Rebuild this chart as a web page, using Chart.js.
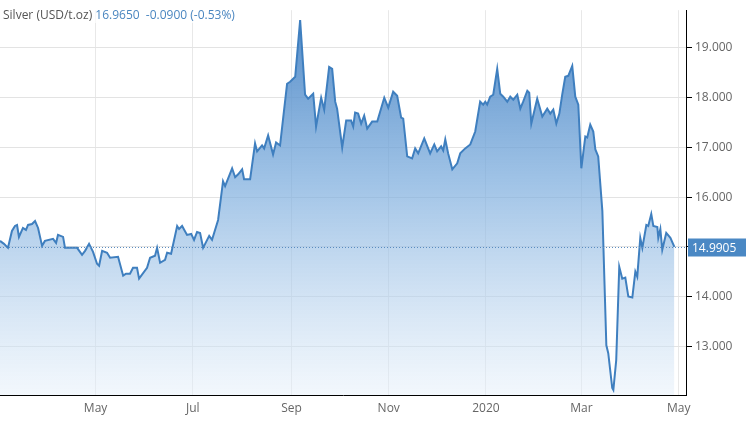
<!DOCTYPE html>
<html><head><meta charset="utf-8">
<script src="https://cdn.jsdelivr.net/npm/chart.js@4"></script>
<style>html,body{margin:0;padding:0;background:#fff;overflow:hidden}#wrap{position:relative;width:748px;height:421px}
#title{position:absolute;left:3px;top:6px;font:12px "Open Sans","Liberation Sans",sans-serif;color:#555;white-space:nowrap;background:rgba(255,255,255,0.7)}#title span{color:#4a86c0}</style>
</head><body><div id="wrap"><canvas id="c" width="748" height="421"></canvas>
<div id="title">Silver (USD/t.oz) <span>16.9650&nbsp;&nbsp;-0.0900 (-0.53%)</span></div></div>
<script>
// days since 2019-03-02
const days=[0,2.5,5,7.5,9.4,10.7,11.9,14.4,16.3,17.6,20.1,22,23.9,26.4,28.2,33.3,35.2,36.4,39.6,40.8,44,48.4,51.5,53.4,55.9,58.4,60.9,62.2,64.1,67.2,69.1,74.1,77.3,79.1,81.6,83.5,86,87.3,92.3,94.2,97.3,98.6,100.5,103.6,104.9,107.4,111.2,112.4,114.3,117.4,120,121.8,123.7,125.6,127.5,131.3,133.1,136.9,140,141.3,145.7,147.6,149.5,152,153.2,157,160.1,161.4,164.5,165.8,168.3,171.4,173.3,175.8,177.7,180.2,182.1,185.3,188.4,191.5,193.4,196.6,198.4,201.6,203.5,206.6,208.5,210.4,211.6,214.8,217.3,220.4,221.7,222.9,224.8,226.7,228.6,230.5,233.6,236.8,241.2,243.7,246.8,249.3,251.8,253.1,255.6,258.7,260.6,262.5,266.3,270,272.6,274.4,276.9,278.2,279.5,281.3,283.9,287,288.9,292,295.2,296.4,298.3,301.4,303.3,304.6,305.8,307.7,309.6,312.1,314,315.9,318.4,320.3,322.2,324.7,326.6,328.4,331,332.2,333.5,337.2,340.4,343.5,345.4,347.3,349.2,351.1,352.9,354.8,356.7,359.2,361.1,363,364.9,367.4,368.6,370.5,372.4,373.7,375.5,378.1,380.6,381.8,384.3,385,386.8,388.7,390.6,392.5,394.4,396.9,398.8,400,401.9,403.2,405.7,406.9,408.8,410.1,412.6,413.2,414.5,415.7,418.2,420.8,423.3];
const prices=[15.12,15.06,14.98,15.32,15.42,15.44,15.2,15.38,15.34,15.44,15.46,15.52,15.38,15.02,15.12,15.16,15.08,15.24,15.2,14.98,14.98,14.98,14.84,14.92,15.06,14.9,14.66,14.62,14.92,14.88,14.78,14.8,14.42,14.46,14.46,14.58,14.58,14.36,14.58,14.78,14.82,14.98,14.68,14.74,14.88,14.86,15.42,15.36,15.42,15.24,15.26,15.14,15.3,15.28,14.98,15.22,15.14,15.54,16.32,16.22,16.58,16.4,16.46,16.56,16.36,16.36,17.08,16.92,17.04,16.98,17.24,16.86,17.1,17.04,17.58,18.28,18.32,18.42,19.56,18.06,17.98,18.08,17.42,18.0,17.76,18.62,18.58,17.92,17.78,17.0,17.54,17.54,17.42,17.7,17.68,17.48,17.64,17.38,17.52,17.52,18.0,17.8,18.12,18.04,17.6,17.58,16.82,16.78,16.98,16.88,17.18,16.88,17.06,16.92,17.02,16.94,17.16,16.88,16.56,16.68,16.88,16.98,17.06,17.16,17.32,17.92,17.86,17.92,17.86,18.02,18.06,18.58,18.08,18.02,17.92,18.02,17.96,18.06,17.78,17.92,18.14,18.1,17.48,17.98,17.62,17.78,17.68,17.76,17.48,17.68,18.06,18.42,18.44,18.64,18.02,17.86,16.58,17.22,17.2,17.46,17.32,16.96,16.82,15.72,13.02,12.86,12.16,12.12,12.72,14.6,14.36,14.38,14.0,13.98,14.5,14.4,15.18,14.98,15.44,15.42,15.66,15.42,15.4,15.18,15.36,14.94,15.28,15.18,15.0];
const monthTicks=[60,121,183,244,305,365,426];
const monthLabels=['May','Jul','Sep','Nov','2020','Mar','May'];
const priceTicks=[13,14,15,16,17,18,19];
const lastPrice=14.9905;

const lastPlugin={id:'last',afterDatasetsDraw(ch){
 const {ctx,chartArea:a,scales:{y}}=ch;const py=Math.round(y.getPixelForValue(lastPrice))+0.5;
 ctx.save();ctx.strokeStyle='#5a8cc0';ctx.setLineDash([1,2]);ctx.lineWidth=1;
 ctx.beginPath();ctx.moveTo(a.left,py);ctx.lineTo(a.right,py);ctx.stroke();ctx.setLineDash([]);
 ctx.fillStyle='#4a88c4';ctx.fillRect(a.right+2,py-9,58,18);
 ctx.fillStyle='#fff';ctx.font='12px "Open Sans","Liberation Sans",sans-serif';ctx.textBaseline='middle';
 ctx.fillText(lastPrice.toFixed(4),a.right+6,py+1);ctx.restore();}};

new Chart(document.getElementById('c'),{type:'line',
 data:{datasets:[{data:days.map((d,i)=>({x:d,y:prices[i]})),borderColor:'#3f7fbf',borderWidth:2,pointRadius:0,tension:0,
  fill:'start',backgroundColor:(c)=>{const a=c.chart.chartArea;if(!a)return 'rgba(80,140,200,0.5)';
   const g=c.chart.ctx.createLinearGradient(0,a.top,0,a.bottom);g.addColorStop(0,'rgba(70,130,195,0.95)');g.addColorStop(0.45,'rgba(120,170,220,0.7)');g.addColorStop(1,'rgba(230,240,250,0.5)');return g;}}]},
 options:{responsive:false,animation:false,layout:{padding:0},
  plugins:{legend:{display:false},tooltip:{enabled:false}},
  scales:{
   x:{type:'linear',min:0,max:430.6,afterBuildTicks:s=>{s.ticks=monthTicks.map(v=>({value:v}));},
    ticks:{callback:(v,i)=>monthLabels[i],color:'#666',font:{size:12,family:'"Open Sans","Liberation Sans",sans-serif'},maxRotation:0,autoSkip:false,padding:6},
    grid:{color:'#e8e8e8',drawTicks:false},border:{color:'#000',width:1},afterFit:s=>{s.height=26;}},
   y:{position:'right',min:12.02,max:19.76,afterBuildTicks:s=>{s.ticks=priceTicks.map(v=>({value:v}));},
    ticks:{callback:v=>v.toFixed(3),color:'#666',font:{size:12,family:'"Open Sans","Liberation Sans",sans-serif'},padding:3},
    grid:{color:'#e3e3e3',tickLength:6,tickColor:'#000'},border:{color:'#000',width:1},afterFit:s=>{s.width=62;}}
  }},plugins:[lastPlugin]});
</script></body></html>
